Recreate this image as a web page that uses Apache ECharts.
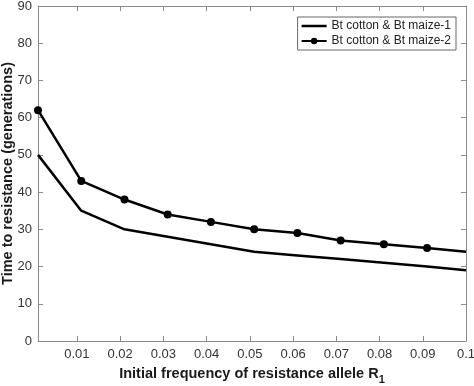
<!DOCTYPE html>
<html>
<head>
<meta charset="utf-8">
<script src="https://cdn.jsdelivr.net/npm/echarts@6/dist/echarts.min.js"></script>
<style>
  html, body { margin: 0; padding: 0; background: #fff; }
  #chart { width: 474px; height: 386px; }
</style>
</head>
<body>
<div id="chart"></div>
<script>
// initial frequency of R1 (x values)
const freqs = [0.001, 0.011, 0.021, 0.031, 0.041, 0.051, 0.061, 0.071, 0.081, 0.091, 0.1]
// time to resistance, generations
const maize1 = [50, 35, 30, 28, 26, 24, 23, 22, 21, 20, 19]
const maize2 = [62, 43, 38, 34, 32, 30, 29, 27, 26, 25, 24]
const xTicks = [0.01, 0.02, 0.03, 0.04, 0.05, 0.06, 0.07, 0.08, 0.09, 0.1]
const seriesNames = ['Bt cotton & Bt maize-1', 'Bt cotton & Bt maize-2']

const axisGrey = '#8a8a8a'
const font = 'Liberation Sans, Arial, sans-serif'

const chart = echarts.init(document.getElementById('chart'))

const toPairs = (ys) => ys.map((y, i) => [freqs[i], y])

// last point of series 2 sits on the right edge with no marker
const series2Data = toPairs(maize2).map((p, i) =>
  i === freqs.length - 1 ? { value: p, symbol: 'none' } : p
)

const hiddenX = {
  min: 0.001, max: 0.1,
  axisLine: { onZero: false, lineStyle: { color: axisGrey, width: 1 } },
  axisTick: { inside: true, length: 5, customValues: xTicks, lineStyle: { color: axisGrey } },
  axisLabel: { show: false },
  splitLine: { show: false }
}
const hiddenY = {
  min: 0, max: 90, interval: 10,
  axisLine: { onZero: false, lineStyle: { color: axisGrey, width: 1 } },
  axisTick: { inside: true, length: 5, lineStyle: { color: axisGrey } },
  axisLabel: { show: false },
  splitLine: { show: false }
}

chart.setOption({
  animation: false,
  textStyle: { fontFamily: font },
  grid: { left: 38, right: 8, top: 6, bottom: 45, containLabel: false, outerBoundsMode: 'none' },
  legend: {
    right: 18, top: 17,
    orient: 'vertical',
    data: [
      // plain line icon for the first series (no marker)
      {
        name: seriesNames[0],
        icon: 'path://M0,0 M0,2.75 L25,2.75 L25,5.25 L0,5.25 Z M25,8',
        itemStyle: { borderWidth: 0 }
      },
      { name: seriesNames[1] }
    ],
    itemWidth: 25, itemHeight: 8, itemGap: 3,
    padding: [3, 5, 3, 3],
    borderColor: '#666', borderWidth: 1, borderRadius: 0,
    backgroundColor: '#fff',
    textStyle: { fontFamily: font, fontSize: 12, color: '#222' }
  },
  xAxis: [
    {
      type: 'value',
      position: 'bottom',
      ...hiddenX,
      axisLabel: {
        show: true, customValues: xTicks, color: '#333', fontSize: 13, margin: 7,
        formatter: (v) => String(+v.toFixed(2))
      },
      name: '{t|Initial frequency of resistance allele R}{s|1}',
      nameLocation: 'middle', nameGap: 21, nameMoveOverlap: false,
      nameTextStyle: {
        rich: {
          t: { fontFamily: font, fontSize: 14.5, fontWeight: 'bold', color: '#1a1a1a' },
          s: { fontFamily: font, fontSize: 11, fontWeight: 'bold', color: '#1a1a1a', padding: [12, 0, 0, 0] }
        }
      }
    },
    { type: 'value', position: 'top', ...hiddenX }
  ],
  yAxis: [
    {
      type: 'value',
      position: 'left',
      ...hiddenY,
      axisLabel: { show: true, color: '#333', fontSize: 13, margin: 6 },
      name: 'Time to resistance (generations)',
      nameLocation: 'middle', nameGap: 23, nameMoveOverlap: false,
      nameTextStyle: { fontFamily: font, fontSize: 14.5, fontWeight: 'bold', color: '#1a1a1a' }
    },
    { type: 'value', position: 'right', ...hiddenY }
  ],
  series: [
    {
      name: seriesNames[0],
      type: 'line',
      data: toPairs(maize1),
      symbol: 'none',
      lineStyle: { color: '#000', width: 2.5 },
      itemStyle: { color: '#000' }
    },
    {
      name: seriesNames[1],
      type: 'line',
      data: series2Data,
      symbol: 'circle', symbolSize: 8,
      lineStyle: { color: '#000', width: 2.5 },
      itemStyle: { color: '#000' }
    }
  ]
})
</script>
</body>
</html>
